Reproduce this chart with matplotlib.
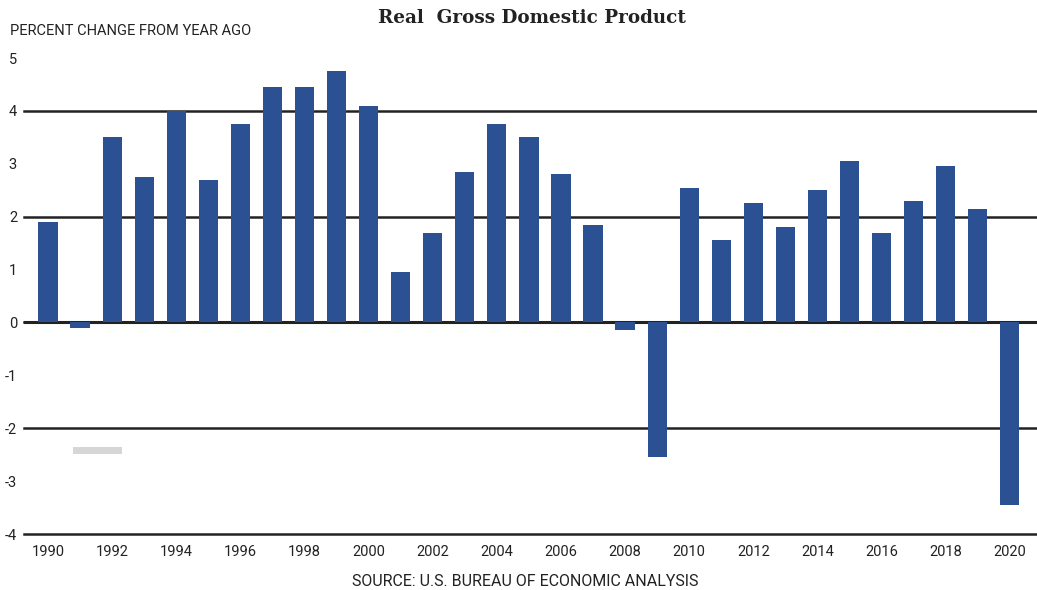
import matplotlib.pyplot as plt
from matplotlib.patches import Rectangle

years = list(range(1990, 2021))
gdp_change = [1.9, -0.1, 3.5, 2.75, 4.0, 2.7, 3.75, 4.45, 4.45, 4.75, 4.1,
              0.95, 1.7, 2.85, 3.75, 3.5, 2.8, 1.85, -0.15, -2.55, 2.55,
              1.55, 2.25, 1.8, 2.5, 3.05, 1.7, 2.3, 2.95, 2.15, -3.45]
yticks = [-4, -3, -2, -1, 0, 1, 2, 3, 4, 5]
grid_vals = [-4, -2, 0, 2, 4]
xticks = list(range(1990, 2021, 2))

fig = plt.figure(figsize=(10.37, 5.9), dpi=100)
ax = fig.add_axes([24 / 1037, 56 / 590, 1 - 24 / 1037, 476 / 590])

for g in grid_vals:
    ax.axhline(g, color="#222222", lw=1.8, zorder=1, clip_on=False)

ax.bar(years, gdp_change, width=0.6, color="#2c5193", zorder=2)
ax.axhline(0, color="#222222", lw=2.2, zorder=1)

ax.set_xlim(1989.25, 2020.85)
ax.set_ylim(-4, 5)
ax.set_yticks(yticks)
ax.set_yticklabels([str(v) for v in yticks], fontfamily="Roboto", fontsize=10.5,
                   color="#222222")
ax.set_xticks(xticks)
ax.set_xticklabels([str(v) for v in xticks], fontfamily="Roboto", fontsize=10.5,
                   color="#222222")
ax.tick_params(axis="x", length=0, pad=8)
ax.tick_params(axis="y", length=0, pad=5)
for s in ax.spines.values():
    s.set_visible(False)

# light grey stray mark
ax.add_patch(Rectangle((49 / 1013, 0.168), 49 / 1013, 0.015,
                       transform=ax.transAxes, color="#d6d6d6", lw=0))

fig.text(10 / 1037, 1 - 31 / 590, "PERCENT CHANGE FROM YEAR AGO",
         fontfamily="Roboto", fontsize=10.5, color="#222222", va="center")
fig.text(532 / 1037, 1 - 18 / 590, "Real  Gross Domestic Product",
         fontfamily="DejaVu Serif", fontweight="bold", fontsize=13.2,
         color="#222222", ha="center", va="center")
fig.text(525 / 1037, 1 - 581 / 590, "SOURCE: U.S. BUREAU OF ECONOMIC ANALYSIS",
         fontfamily="Roboto", fontsize=11.5, color="#222222",
         ha="center", va="center")

fig.savefig("out.png", dpi=100)
